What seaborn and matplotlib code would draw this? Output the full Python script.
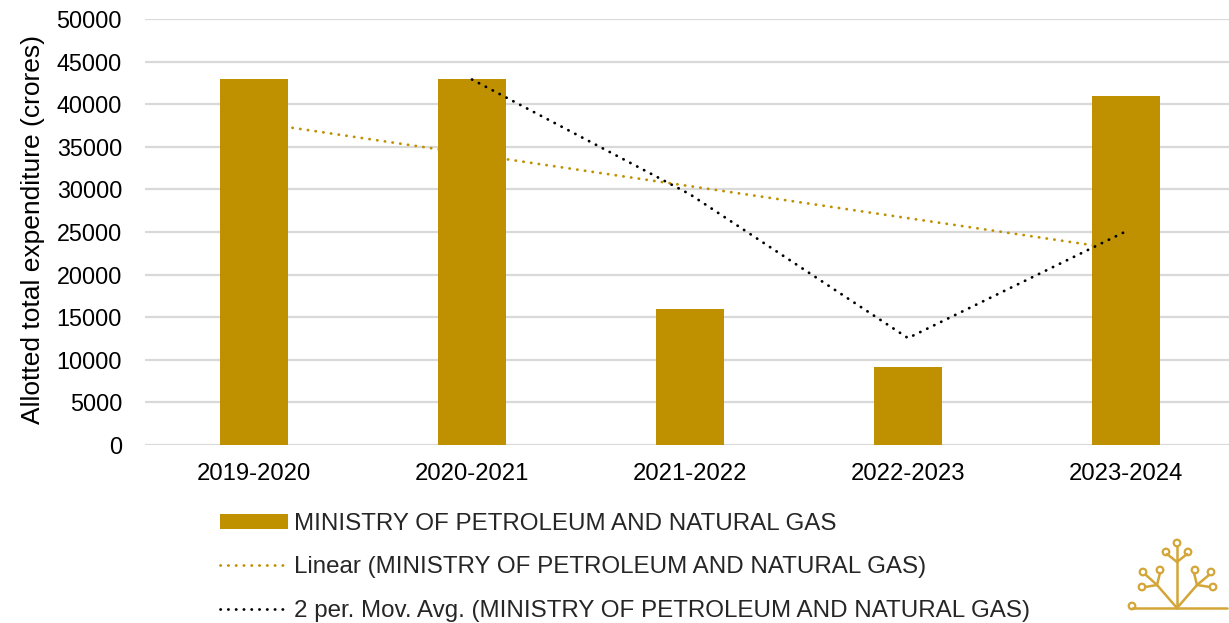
import numpy as np
import pandas as pd
import matplotlib
matplotlib.use("Agg")
import matplotlib.pyplot as plt
from matplotlib.patches import Patch, Circle
from matplotlib.lines import Line2D
import seaborn as sns

# ---- data ----
years = ["2019-2020", "2020-2021", "2021-2022", "2022-2023", "2023-2024"]
expenditure = [42901, 42901, 15944, 9153, 41007]
series_name = "MINISTRY OF PETROLEUM AND NATURAL GAS"
y_ticks = [0, 5000, 10000, 15000, 20000, 25000, 30000, 35000, 40000, 45000, 50000]

GOLD = "#BF9000"
GRID = "#D9D9D9"

sns.set_theme(style="white")
plt.rcParams["font.family"] = ["Liberation Sans", "DejaVu Sans"]

W, H = 1229, 623
fig = plt.figure(figsize=(W / 100, H / 100), dpi=100)
ax = fig.add_axes([145 / W, 1 - 445 / H, 1090 / W, (445 - 19) / H])

df = pd.DataFrame({"year": years, "value": expenditure, "pos": np.arange(len(years))})
df["ma"] = df["value"].rolling(2).mean()

DOT = (0, (0.1, 2.7))

# bars
sns.barplot(data=df, x="year", y="value", color=GOLD, saturation=1, width=0.315,
            linewidth=0, ax=ax, zorder=2)

# linear trendline (behind bars)
sns.regplot(data=df, x="pos", y="value", scatter=False, ci=None, truncate=True, ax=ax,
            line_kws=dict(color=GOLD, lw=2.0, linestyle=DOT,
                          dash_capstyle="round", zorder=1))

# 2 period moving average (on top)
sns.lineplot(data=df.dropna(), x="pos", y="ma", ax=ax, color="black", lw=2.0,
             linestyle=DOT, dash_capstyle="round", zorder=3)

ax.set_xlim(-0.5, 4.5)
ax.set_ylim(0, 50000)
ax.set_yticks(y_ticks)
ax.set_yticklabels([str(v) for v in y_ticks])
ax.set_xticks(range(len(years)))
ax.set_xticklabels(years)
ax.yaxis.grid(True, color=GRID, lw=1.6)
ax.xaxis.grid(False)
ax.set_axisbelow(True)
for s in ax.spines.values():
    s.set_visible(False)
ax.tick_params(axis="y", length=0, pad=16.5, labelsize=16.8, labelcolor="black")
ax.tick_params(axis="x", length=0, pad=13, labelsize=17.2, labelcolor="black")
ax.set_xlabel("")
ax.set_ylabel("Allotted total expenditure (crores)", fontsize=19, color="black")
ax.yaxis.set_label_coords((45 - 145) / 1090, (445 - 229) / 426)

# legend
handles = [
    Patch(facecolor=GOLD, edgecolor="none"),
    Line2D([], [], color=GOLD, lw=2.0, linestyle=DOT, dash_capstyle="round"),
    Line2D([], [], color="black", lw=2.0, linestyle=DOT, dash_capstyle="round"),
]
labels = [series_name, f"Linear ({series_name})", f"2 per. Mov. Avg. ({series_name})"]
fig.legend(handles, labels, loc="upper left", bbox_to_anchor=(220 / W, 1 - 513 / H),
           frameon=False, fontsize=17.4, handlelength=2.8, handleheight=0.55,
           handletextpad=0.26, labelspacing=0.88, borderpad=0, borderaxespad=0)

# watermark logo (decorative)
LOGO = "#D4A537"
def fx(x):
    return x / W
def fy(y):
    return 1 - y / H
segs = [
    ((1132, 608), (1227, 608)),
    ((1177, 608), (1177, 546)),
    ((1177, 562), (1167, 554)),
    ((1177, 562), (1187, 554)),
    ((1177, 608), (1157, 585)),
    ((1157, 585), (1145, 587)),
    ((1157, 585), (1160, 573)),
    ((1157, 585), (1146, 575)),
    ((1177, 608), (1197, 585)),
    ((1197, 585), (1210, 587)),
    ((1197, 585), (1194, 573)),
    ((1197, 585), (1209, 575)),
]
for (a, b) in segs:
    fig.add_artist(Line2D([fx(a[0]), fx(b[0])], [fy(a[1]), fy(b[1])], color=LOGO, lw=1.8,
                          transform=fig.transFigure))
for (cx, cy) in [(1132, 606), (1177, 543), (1166, 552), (1188, 552), (1143, 572), (1160, 570),
                 (1195, 570), (1211, 572), (1142, 587), (1213, 587)]:
    fig.add_artist(Circle((cx, H - cy), 3.3, fill=False, ec=LOGO, lw=1.6,
                          transform=matplotlib.transforms.IdentityTransform()))

fig.savefig("out.png", dpi=100)
